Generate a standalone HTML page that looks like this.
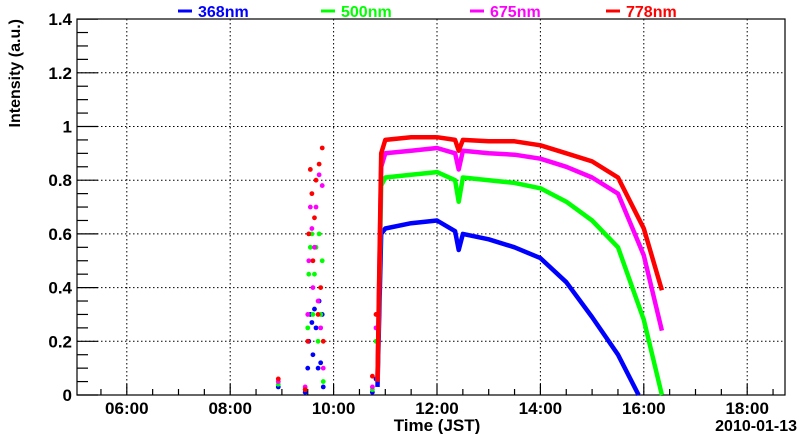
<!DOCTYPE html>
<html><head><meta charset="utf-8"><style>
body{margin:0;background:#fff}
svg{display:block;font-family:"Liberation Sans",sans-serif;font-weight:bold}
</style></head><body>
<svg id="c" width="800" height="434" viewBox="0 0 800 434"></svg>
<script>
const times=[10.85,10.92,11,11.5,12,12.35,12.42,12.5,13,13.5,14,14.5,15,15.5,16,16.35];
const red=[0.05,0.9,0.95,0.96,0.96,0.95,0.91,0.95,0.945,0.945,0.93,0.9,0.87,0.81,0.62,0.39];
const magenta=[0.05,0.85,0.9,0.91,0.92,0.9,0.84,0.91,0.9,0.895,0.88,0.85,0.81,0.75,0.52,0.24];
const green=[0.05,0.78,0.81,0.82,0.83,0.8,0.72,0.81,0.8,0.79,0.77,0.72,0.65,0.55,0.28,0.0];
const blueTimes=[10.85,10.92,11,11.5,12,12.35,12.42,12.5,13,13.5,14,14.5,15,15.5,15.9];
const blue=[0.03,0.6,0.62,0.64,0.65,0.61,0.54,0.6,0.58,0.55,0.51,0.42,0.29,0.15,0.0];
const morningT=[8.93,9.45,9.5,9.52,9.55,9.58,9.6,9.63,9.66,9.7,9.72,9.75,9.78,9.8,10.75,10.82];
const morningRed=[0.06,0.02,0.2,0.6,0.84,0.75,0.5,0.66,0.8,0.3,0.86,0.4,0.92,0.2,0.07,0.3];
const morningMag=[0.05,0.03,0.3,0.5,0.7,0.62,0.4,0.55,0.7,0.35,0.82,0.25,0.78,0.1,0.03,0.25];
const morningGreen=[0.04,0.02,0.25,0.45,0.55,0.6,0.3,0.45,0.55,0.2,0.6,0.3,0.5,0.05,0.02,0.2];
const morningBlue=[0.03,0.01,0.1,0.2,0.3,0.27,0.15,0.32,0.25,0.1,0.35,0.12,0.3,0.03,0.01,0.06];
const yTicks=[0,0.2,0.4,0.6,0.8,1,1.2,1.4];
const yLabels=["0","0.2","0.4","0.6","0.8","1","1.2","1.4"];
const xTicks=[6,8,10,12,14,16,18];
const xLabels=["06:00","08:00","10:00","12:00","14:00","16:00","18:00"];

const NS="http://www.w3.org/2000/svg",svg=document.getElementById('c');
const L=77,R=785,T=19,B=395;
const X=h=>437+(h-12)*51.7;
const Y=v=>B-v*268.5;
function el(t,a,p){const e=document.createElementNS(NS,t);for(const k in a)e.setAttribute(k,a[k]);(p||svg).appendChild(e);return e;}
for(const t of xTicks){const g=el('line',{x1:X(t),x2:X(t),y1:T,y2:B,stroke:'#000','stroke-width':1,'stroke-dasharray':'1.5,2.5'});

}
for(const v of yTicks.slice(1,-1)){const g=el('line',{x1:L,x2:R,y1:Y(v),y2:Y(v),stroke:'#000','stroke-width':1,'stroke-dasharray':'1.5,2.5'});

}
const fr=el('rect',{x:L,y:T,width:R-L,height:B-T,fill:'none',stroke:'#000','stroke-width':1.2});


for(let v=0;v<=1.4001;v+=0.05){const maj=Math.abs(v*5-Math.round(v*5))<1e-6;el('line',{x1:L,x2:L+(maj?21:11),y1:Y(v),y2:Y(v),stroke:'#000','stroke-width':1.2});}
for(let h=4.5;h<=19;h+=0.5){const maj=Math.abs(h/2-Math.round(h/2))<1e-6;if(X(h)<L||X(h)>R)continue;el('line',{x1:X(h),x2:X(h),y1:B,y2:B-(maj?11:6),stroke:'#000','stroke-width':1.2});}
yTicks.forEach((v,i)=>{const t=el('text',{x:72,y:Y(v)+6,'text-anchor':'end','font-size':17});t.textContent=yLabels[i];

});
xTicks.forEach((h,i)=>{const t=el('text',{x:X(h),y:414,'text-anchor':'middle','font-size':17});t.textContent=xLabels[i];

});
let t=el('text',{x:437,y:431,'text-anchor':'middle','font-size':17});t.textContent='Time (JST)';


t=el('text',{x:797,y:431,'text-anchor':'end','font-size':16});t.textContent='2010-01-13';


t=el('text',{x:0,y:0,'text-anchor':'end','font-size':16,transform:'translate(20,19) rotate(-90)'});t.textContent='Intensity (a.u.)';


const series=[['368nm','#0000ff',blueTimes,blue,morningBlue,178],['500nm','#00ff00',times,green,morningGreen,321],['675nm','#ff00ff',times,magenta,morningMag,470],['778nm','#ff0000',times,red,morningRed,606]];
for(const [name,col,ts,vs,mv,lx] of series){
  const g=el('g',{});
  
  
  const pts=ts.map((h,i)=>X(h).toFixed(1)+','+Y(vs[i]).toFixed(1)).join(' ');
  el('polyline',{points:pts,fill:'none',stroke:col,'stroke-width':4.5,'stroke-linejoin':'round'},g);
  morningT.forEach((h,i)=>{const c=el('circle',{cx:X(h),cy:Y(mv[i]),r:2.4,fill:col},g);
  
  });
  const lg=el('g',{});
  
  
  el('line',{x1:lx,x2:lx+14,y1:11,y2:11,stroke:col,'stroke-width':3},lg);
  const tx=el('text',{x:lx+20,y:17,'font-size':16,fill:col},lg);tx.textContent=name;
}
</script>
</body></html>
